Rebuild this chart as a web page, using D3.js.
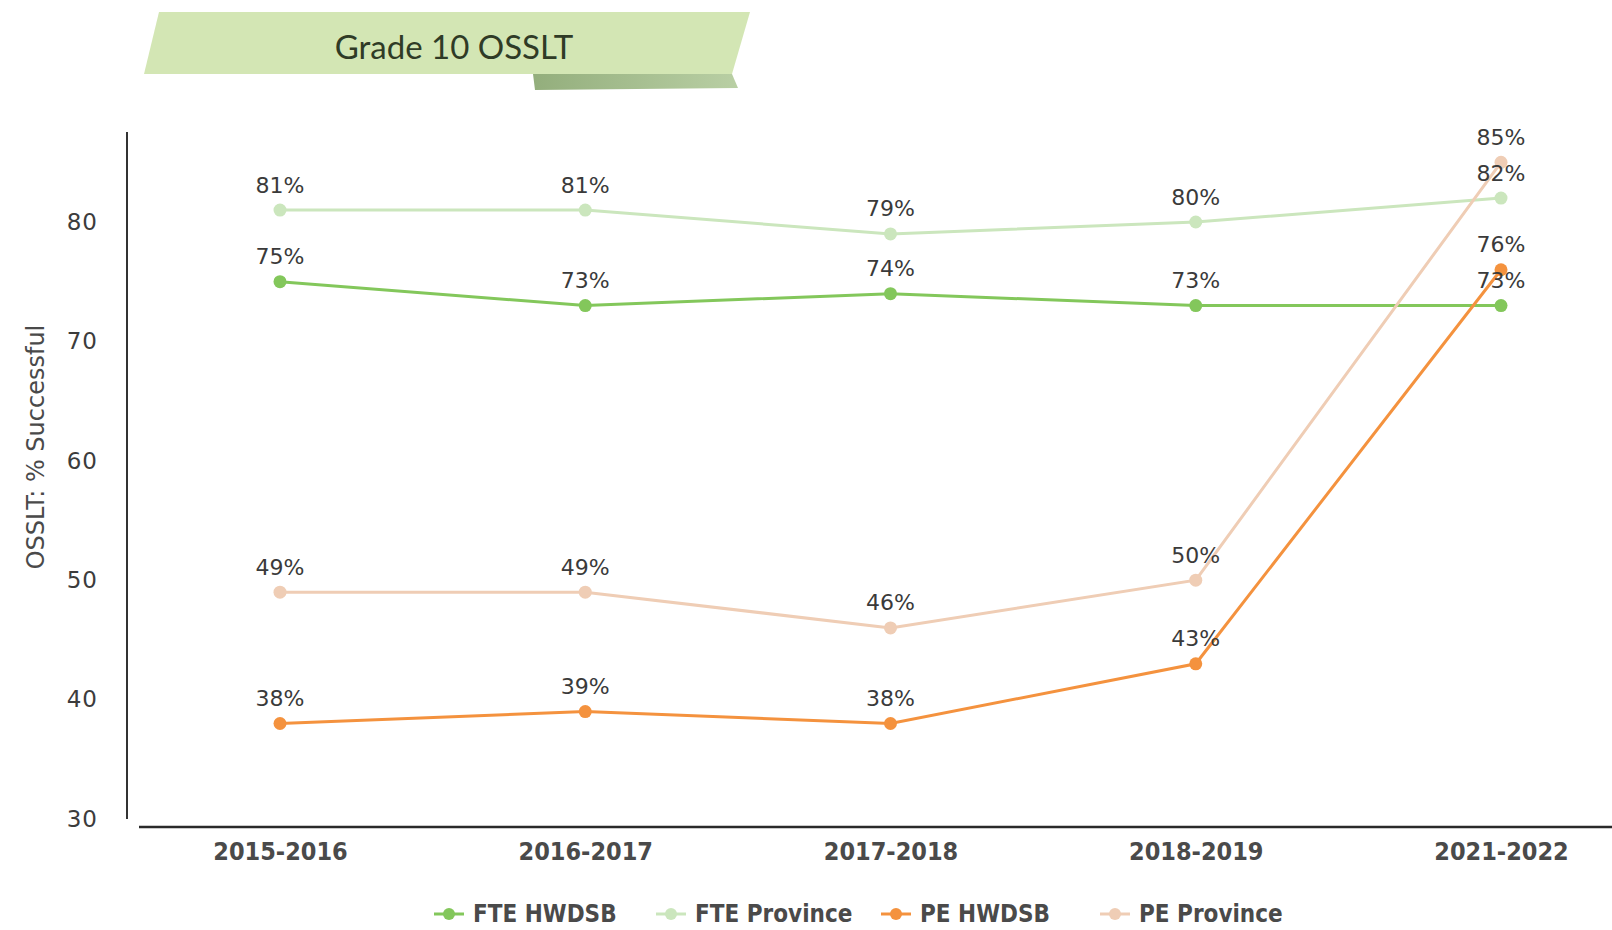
<!DOCTYPE html>
<html>
<head>
<meta charset="utf-8">
<script src="https://cdn.jsdelivr.net/npm/d3@7"></script>
<style>
  html, body { margin: 0; padding: 0; background: #fff; }
  svg { display: block; }
</style>
</head>
<body>
<svg id="chart" width="1612" height="930"></svg>
<script>
// data
const years = ["2015-2016", "2016-2017", "2017-2018", "2018-2019", "2021-2022"];
const fteHwdsb = [75, 73, 74, 73, 73];
const fteProvince = [81, 81, 79, 80, 82];
const peHwdsb = [38, 39, 38, 43, 76];
const peProvince = [49, 49, 46, 50, 85];
const yTicks = [30, 40, 50, 60, 70, 80];

const series = [
  { name: "FTE HWDSB", values: fteHwdsb, color: "#83c75b" },
  { name: "FTE Province", values: fteProvince, color: "#cbe6bd" },
  { name: "PE HWDSB", values: peHwdsb, color: "#f4923e" },
  { name: "PE Province", values: peProvince, color: "#efcdb5" }
];

const svg = d3.select("#chart");
const font = "'DejaVu Sans', sans-serif";
const condensed = "'DejaVu Sans Condensed', 'DejaVu Sans', sans-serif";

// layout
const axisX = 127, axisTop = 132, baseY = 827;
const x = d3.scalePoint().domain(years).range([280, 1501]);
const y = d3.scaleLinear().domain([30, 80]).range([819, 222]);

// --- title banner ---
const defs = svg.append("defs");
const grad = defs.append("linearGradient").attr("id", "fold")
  .attr("x1", 0).attr("x2", 1).attr("y1", 0).attr("y2", 0);
grad.append("stop").attr("offset", "0%").attr("stop-color", "#93ae7c");
grad.append("stop").attr("offset", "100%").attr("stop-color", "#b9cfa4");

const banner = svg.append("g");
banner.append("polygon")
  .attr("points", "533,74 732,74 738,88 535,90")
  .attr("fill", "url(#fold)");
banner.append("polygon")
  .attr("points", "159,12 750,12 732,74 144,74")
  .attr("fill", "#d3e6b4");
banner.append("text")
  .attr("x", 454).attr("y", 46)
  .attr("text-anchor", "middle")
  .attr("dominant-baseline", "central")
  .attr("font-family", "Lato, sans-serif")
  .attr("font-size", 33)
  .attr("fill", "#2f3b26")
  .text("Grade 10 OSSLT");

// --- axes ---
svg.append("line")
  .attr("x1", axisX).attr("x2", axisX)
  .attr("y1", axisTop).attr("y2", 819)
  .attr("stroke", "#333").attr("stroke-width", 2);

svg.append("line")
  .attr("x1", 139).attr("x2", 1612)
  .attr("y1", baseY).attr("y2", baseY)
  .attr("stroke", "#2a2a2a").attr("stroke-width", 2.5);

const yAxis = svg.append("g")
  .attr("transform", `translate(${axisX},0)`)
  .call(d3.axisLeft(y).tickValues(yTicks).tickSize(0).tickPadding(29));
yAxis.select(".domain").remove();
yAxis.selectAll("text")
  .attr("font-family", font).attr("font-size", 23)
  .attr("letter-spacing", 1).attr("fill", "#3c3c3c");

const xAxis = svg.append("g")
  .attr("transform", `translate(0,${baseY})`)
  .call(d3.axisBottom(x).tickSize(0).tickPadding(15));
xAxis.select(".domain").remove();
xAxis.selectAll("text")
  .attr("font-family", condensed).attr("font-weight", "bold")
  .attr("font-size", 25).attr("fill", "#4a4a4a");

svg.append("text")
  .attr("transform", `translate(36,447) rotate(-90)`)
  .attr("text-anchor", "middle")
  .attr("dominant-baseline", "central")
  .attr("font-family", font).attr("font-size", 24).attr("fill", "#4a4a4a")
  .text("OSSLT: % Successful");

// --- lines, markers, labels ---
const line = d3.line()
  .x((d, i) => x(years[i]))
  .y(d => y(d));

series.forEach(s => {
  const g = svg.append("g");
  g.append("path")
    .datum(s.values)
    .attr("d", line)
    .attr("fill", "none")
    .attr("stroke", s.color)
    .attr("stroke-width", 3);
  g.selectAll("circle")
    .data(s.values)
    .enter().append("circle")
    .attr("cx", (d, i) => x(years[i]))
    .attr("cy", d => y(d))
    .attr("r", 6.5)
    .attr("fill", s.color);
});

series.forEach(s => {
  svg.append("g").selectAll("text")
    .data(s.values)
    .enter().append("text")
    .attr("x", (d, i) => x(years[i]))
    .attr("y", d => y(d) - 25)
    .attr("text-anchor", "middle")
    .attr("dominant-baseline", "central")
    .attr("font-family", font).attr("font-size", 22).attr("fill", "#3a3a3a")
    .text(d => d + "%");
});

// --- legend ---
const legendX = [449, 671, 896, 1115];
const legendY = 914;
const legend = svg.append("g");
series.forEach((s, i) => {
  const lg = legend.append("g").attr("transform", `translate(${legendX[i]},${legendY})`);
  lg.append("line")
    .attr("x1", -15).attr("x2", 15)
    .attr("stroke", s.color).attr("stroke-width", 3);
  lg.append("circle").attr("r", 6).attr("fill", s.color);
  lg.append("text")
    .attr("x", 24)
    .attr("dominant-baseline", "central")
    .attr("font-family", condensed).attr("font-weight", "bold")
    .attr("font-size", 24).attr("fill", "#4a4a4a")
    .text(s.name);
});
</script>
</body>
</html>
